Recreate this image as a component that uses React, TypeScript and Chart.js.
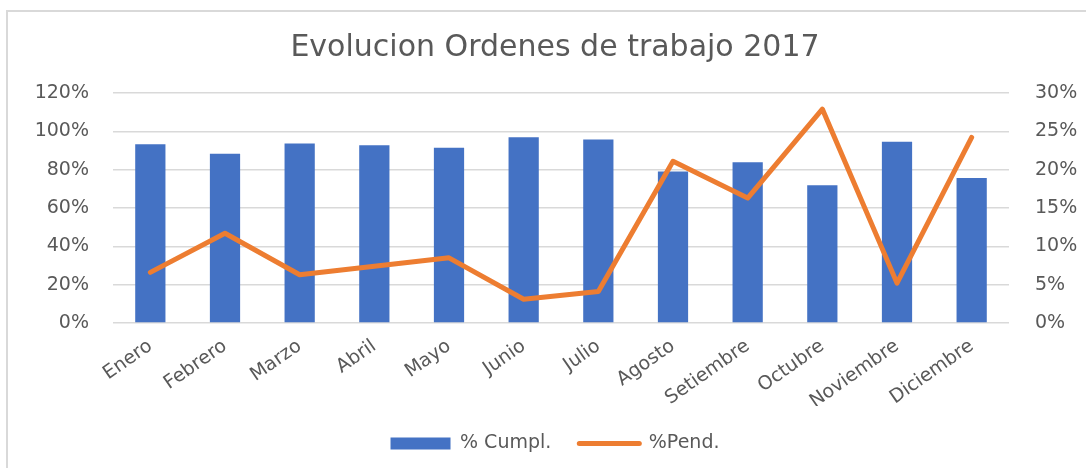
import React, { useEffect, useRef } from "react";
import { Chart, registerables } from "chart.js";

Chart.register(...registerables);

const titleText = "Evolucion Ordenes de trabajo 2017";
const months = [
  "Enero", "Febrero", "Marzo", "Abril", "Mayo", "Junio",
  "Julio", "Agosto", "Setiembre", "Octubre", "Noviembre", "Diciembre",
];
const cumplLabel = "% Cumpl.";
const pendLabel = "%Pend.";
const cumplValues = [93.2, 88.3, 93.7, 92.7, 91.5, 96.9, 95.7, 79.0, 83.9, 71.9, 94.6, 75.7];
const pendValues = [6.6, 11.7, 6.3, 7.4, 8.5, 3.1, 4.1, 21.1, 16.3, 27.9, 5.2, 24.2];
const leftAxisMax = 120;
const leftAxisStep = 20;
const rightAxisMax = 30;
const rightAxisStep = 5;

const TEXT = "#595959";
const GRID = "#d9d9d9";
const BLUE = "#4472C4";
const ORANGE = "#ED7D31";
const FONT = "'DejaVu Sans', sans-serif";

export default function App() {
  const ref = useRef<HTMLCanvasElement | null>(null);

  useEffect(() => {
    if (!ref.current) return;
    const chart = new Chart(ref.current, {
      type: "bar",
      data: {
        labels: months,
        datasets: [
          {
            type: "bar",
            label: cumplLabel,
            data: cumplValues,
            backgroundColor: BLUE,
            borderWidth: 0,
            yAxisID: "y",
            order: 1,
            categoryPercentage: 1,
            barPercentage: 0.405,
          },
          {
            type: "line",
            label: pendLabel,
            data: pendValues,
            borderColor: ORANGE,
            backgroundColor: ORANGE,
            borderWidth: 5,
            pointRadius: 0,
            tension: 0,
            borderJoinStyle: "round",
            borderCapStyle: "round",
            yAxisID: "y1",
            order: 0,
          },
        ],
      },
      options: {
        responsive: false,
        animation: false,
        devicePixelRatio: 1,
        font: { family: FONT },
        layout: { padding: { left: 16, right: 0, top: 0, bottom: 5 } },
        plugins: {
          title: {
            display: true,
            text: titleText,
            color: TEXT,
            font: { family: FONT, size: 30, weight: "normal" },
            padding: { top: 18, bottom: 27 },
          },
          legend: {
            display: true,
            position: "bottom",
            labels: {
              color: TEXT,
              font: { family: FONT, size: 19 },
              usePointStyle: true,
              pointStyleWidth: 60,
              boxHeight: 12,
              padding: 28,
              sort: (a: any, b: any) => a.datasetIndex - b.datasetIndex,
              generateLabels: (c: any) => {
                const items = (Chart.defaults.plugins.legend.labels as any).generateLabels(c);
                items.forEach((it: any) => {
                  if (it.datasetIndex === 0) {
                    it.pointStyle = "rect";
                    it.lineWidth = 0;
                    it.strokeStyle = BLUE;
                  } else {
                    it.pointStyle = "line";
                    it.lineWidth = 5;
                    it.strokeStyle = ORANGE;
                    it.lineCap = "round";
                  }
                  it.fontColor = TEXT;
                });
                return items;
              },
            },
          },
          tooltip: { enabled: false },
        },
        scales: {
          x: {
            grid: { display: false, drawTicks: false },
            border: { display: false },
            ticks: {
              color: TEXT,
              font: { family: FONT, size: 19 },
              minRotation: 35,
              maxRotation: 35,
              autoSkip: false,
              padding: 12,
            },
            afterFit: (s: any) => {
              s.height = 83;
            },
          },
          y: {
            position: "left",
            min: 0,
            max: leftAxisMax,
            grid: { color: GRID, lineWidth: 1.5, drawTicks: false },
            border: { display: false },
            ticks: {
              stepSize: leftAxisStep,
              color: TEXT,
              font: { family: FONT, size: 19 },
              padding: 24,
              callback: (v: any) => v + "%",
            },
            afterFit: (s: any) => {
              s.width = 89;
            },
          },
          y1: {
            position: "right",
            min: 0,
            max: rightAxisMax,
            grid: { display: false, drawTicks: false },
            border: { display: false },
            ticks: {
              stepSize: rightAxisStep,
              color: TEXT,
              font: { family: FONT, size: 19 },
              padding: 26,
              callback: (v: any) => v + "%",
            },
            afterFit: (s: any) => {
              s.width = 77;
            },
          },
        },
      },
    });
    return () => chart.destroy();
  }, []);

  return (
    <div
      style={{
        position: "absolute",
        left: 0,
        top: 0,
        width: 1086,
        height: 468,
        overflow: "hidden",
        background: "#ffffff",
      }}
    >
      <div
        style={{
          position: "absolute",
          left: 6,
          top: 10,
          width: 1100,
          height: 480,
          borderLeft: `2px solid ${GRID}`,
          borderTop: `2px solid ${GRID}`,
        }}
      />
      <canvas
        ref={ref}
        width={1078}
        height={456}
        style={{ position: "absolute", left: 8, top: 12, width: 1078, height: 456 }}
      />
    </div>
  );
}
